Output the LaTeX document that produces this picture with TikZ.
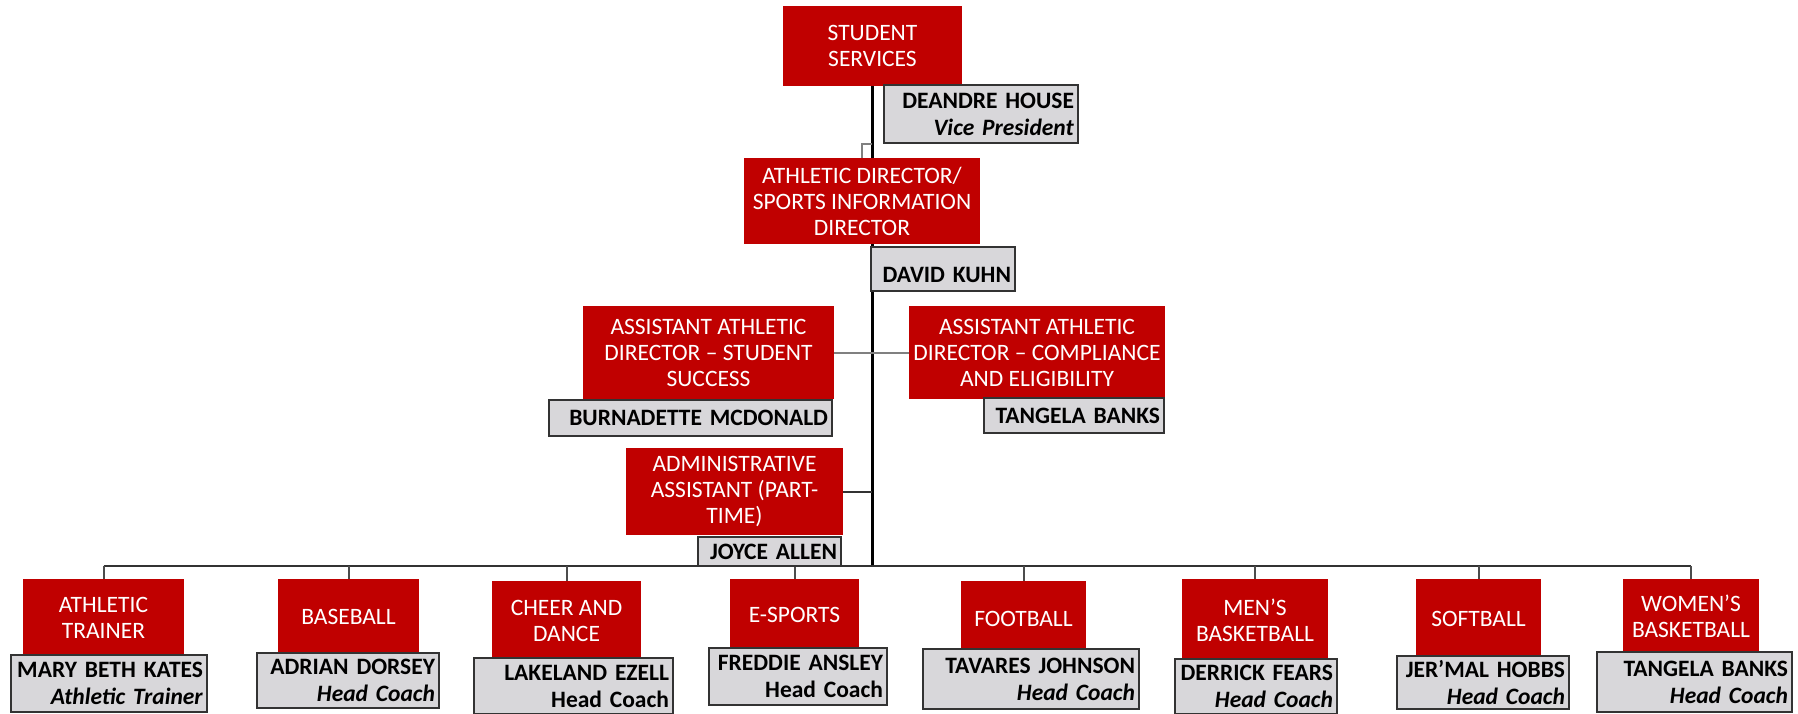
\documentclass[tikz,border=0pt]{standalone}
\usepackage{fontspec}
\setmainfont{Carlito}
\usetikzlibrary{positioning,backgrounds}

\definecolor{boxred}{HTML}{C00000}
\definecolor{namegray}{RGB}{216,215,218}
\newcommand{\chartfont}{\fontsize{23.5}{26}\selectfont}
\newcommand{\namefont}{\fontsize{23.5}{27}\selectfont\bfseries}

\tikzset{
  redbox/.style={fill=boxred, text=white, align=center, inner sep=1pt, font=\chartfont},
  namebox/.style={fill=namegray, draw=black!80, line width=1.5pt, align=right,
                  inner xsep=4pt, inner ysep=0pt, font=\namefont},
  trunk/.style={line width=3.5pt, black},
  link/.style={line width=2pt, black!50},
  busline/.style={line width=2pt, black!80},
  dropline/.style={line width=2pt, black!70}
}

\begin{document}
\begin{tikzpicture}[x=1pt,y=-1pt]
\useasboundingbox (0,0) rectangle (1798,713);

% upper part
\node[redbox, minimum width=179pt, minimum height=80pt] (ss) at (872.5,46) {STUDENT\\SERVICES};
\node[redbox, minimum width=236pt, minimum height=86pt] (ad) at (862,201) {ATHLETIC DIRECTOR/\\SPORTS INFORMATION\\DIRECTOR};
\node[redbox, minimum width=251pt, minimum height=93pt] (asss) at (708.5,352.5) {ASSISTANT ATHLETIC\\DIRECTOR – STUDENT\\SUCCESS};
\node[redbox, minimum width=256pt, minimum height=93pt] (asce) at (1037,352.5) {ASSISTANT ATHLETIC\\DIRECTOR – COMPLIANCE\\AND ELIGIBILITY};
\node[redbox, minimum width=217pt, minimum height=87pt] (admin) at (734.5,491.5) {ADMINISTRATIVE\\ASSISTANT (PART-\\TIME)};

\node[namebox, text width=186pt, minimum height=58pt] (ssname) at (981,114) {DEANDRE HOUSE\\\textit{Vice President}};
\node[namebox, text width=136pt, minimum height=44pt, text height=31pt, text depth=5pt, inner ysep=4pt] (adname) at (943,269) {DAVID KUHN};
\node[namebox, text width=275pt, minimum height=36pt] (asssname) at (690.5,418) {BURNADETTE MCDONALD};
\node[namebox, text width=172pt, minimum height=35pt] (ascename) at (1074,415.5) {TANGELA BANKS};
\node[namebox, text width=135pt, minimum height=29pt] (adminname) at (769.5,551.5) {JOYCE ALLEN};

% sports
\node[redbox, minimum width=161pt, minimum height=78pt] (at) at (103.5,618) {ATHLETIC\\TRAINER};
\node[redbox, minimum width=141pt, minimum height=76pt] (bb) at (348.5,617) {BASEBALL};
\node[redbox, minimum width=149pt, minimum height=79pt] (cd) at (566.5,620.5) {CHEER AND\\DANCE};
\node[redbox, minimum width=129pt, minimum height=71pt] (es) at (794.5,614.5) {E-SPORTS};
\node[redbox, minimum width=125pt, minimum height=76pt] (fb) at (1023.5,619) {FOOTBALL};
\node[redbox, minimum width=146pt, minimum height=82pt] (mb) at (1255,620) {MEN’S\\BASKETBALL};
\node[redbox, minimum width=125pt, minimum height=79pt] (sb) at (1478.5,618.5) {SOFTBALL};
\node[redbox, minimum width=136pt, minimum height=75pt] (wb) at (1691,616.5) {WOMEN’S\\BASKETBALL};

\node[namebox, text width=188pt, minimum height=57pt] (atname) at (109,683.5) {MARY BETH KATES\\\textit{Athletic Trainer}};
\node[namebox, text width=174pt, minimum height=55pt] (bbname) at (348,680.5) {ADRIAN DORSEY\\\textit{Head Coach}};
\node[namebox, text width=191pt, minimum height=56pt] (cdname) at (573.5,686) {LAKELAND EZELL\\Head Coach};
\node[namebox, text width=170pt, minimum height=57pt] (esname) at (798,676.5) {FREDDIE ANSLEY\\Head Coach};
\node[namebox, text width=208pt, minimum height=60pt] (fbname) at (1031,679) {TAVARES JOHNSON\\\textit{Head Coach}};
\node[namebox, text width=154pt, minimum height=55pt] (mbname) at (1256,686.5) {DERRICK FEARS\\\textit{Head Coach}};
\node[namebox, text width=164pt, minimum height=53pt] (sbname) at (1483,682.5) {JER’MAL HOBBS\\\textit{Head Coach}};
\node[namebox, text width=187pt, minimum height=60pt] (wbname) at (1694.5,682) {TANGELA BANKS\\\textit{Head Coach}};

\coordinate (bus) at (872,566);
\coordinate (adtop) at (872,144);

% lines behind the boxes
\begin{scope}[on background layer]
\draw[trunk] (ss.south) -- (ss.south |- bus);
\draw[link, line width=1.2pt] (ad.north) |- (adtop);
\draw[link] (asss.east) -- (asce.west);
\draw[link, black!80] (admin.east) -- (admin.east -| bus);
\draw[busline] (at.north |- bus) -- (wb.north |- bus);
\foreach \n in {at,bb,cd,es,fb,mb,sb,wb}
  \draw[dropline] (\n.north |- bus) -- (\n.north);
\end{scope}
\end{tikzpicture}
\end{document}
